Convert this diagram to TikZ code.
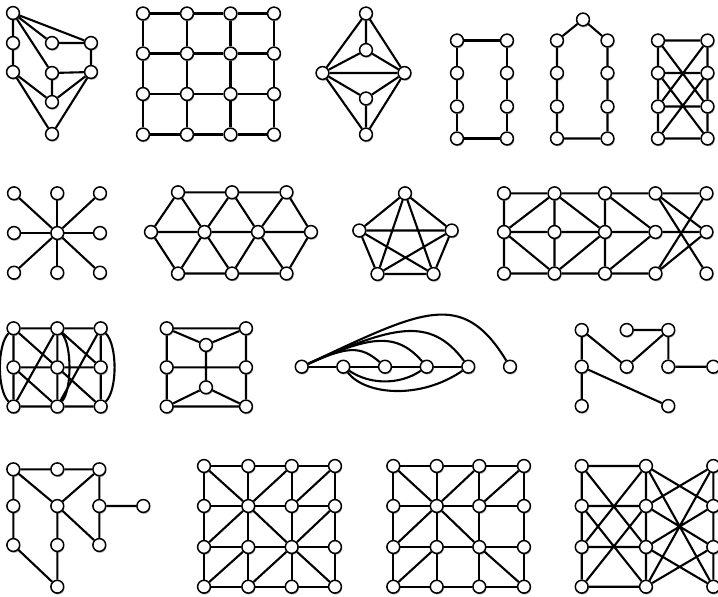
\documentclass[tikz,border=0pt]{standalone}
\usetikzlibrary{shadows,backgrounds}
\tikzset{
  v/.style={circle, draw=black, line width=1.5pt, fill=white, minimum size=12.8pt, inner sep=0pt,
    drop shadow={shadow xshift=0.7pt, shadow yshift=-1.4pt, opacity=0.35, fill=black}},
  e/.style={line width=2.1pt, draw=black},
}
\begin{document}
\begin{tikzpicture}[x=1pt,y=-1pt]
\useasboundingbox (0,0) rectangle (718,597);
% ---------- Graph 1
\node[v] (a1) at (13,13) {};
\node[v] (a2) at (13,43) {};
\node[v] (a3) at (52,43) {};
\node[v] (a4) at (91,43) {};
\node[v] (a5) at (13,72) {};
\node[v] (a6) at (52,73) {};
\node[v] (a7) at (91,72) {};
\node[v] (a8) at (52,102) {};
\node[v] (a9) at (52,134) {};
% ---------- Graph 2 grid
\foreach \i/\x in {1/143,2/187,3/230.5,4/274}
  \foreach \j/\y in {1/13.5,2/53.5,3/94,4/134.5}
    \node[v] (b\j\i) at (\x,\y) {};
% ---------- Graph 3
\node[v] (c1) at (366,13.5) {};
\node[v] (c2) at (366,50) {};
\node[v] (c3) at (322.5,73) {};
\node[v] (c4) at (404.5,73) {};
\node[v] (c5) at (366,98.5) {};
\node[v] (c6) at (366,134.5) {};
% ---------- Graphs 4, 5, 6
\foreach \j/\y in {1/40.5,2/73,3/106.5,4/138.5}{
  \node[v] (dl\j) at (457,\y) {};
  \node[v] (dr\j) at (507,\y) {};
  \node[v] (fl\j) at (557,\y) {};
  \node[v] (fr\j) at (607.5,\y) {};
  \node[v] (gl\j) at (658,\y) {};
  \node[v] (gr\j) at (707.5,\y) {};
}
\node[v] (ft) at (583,19.5) {};
% ---------- Graph 7 star
\node[v] (s0) at (57.3,233) {};
\node[v] (s1) at (14,193.3) {};
\node[v] (s2) at (57.3,193.3) {};
\node[v] (s3) at (100,193.3) {};
\node[v] (s4) at (14,233) {};
\node[v] (s5) at (100,233) {};
\node[v] (s6) at (14,272.7) {};
\node[v] (s7) at (57.3,272.7) {};
\node[v] (s8) at (100,272.7) {};
% ---------- Graph 8 triangles
\node[v] (t1) at (178,192.3) {};
\node[v] (t2) at (232,192.3) {};
\node[v] (t3) at (286.5,192.3) {};
\node[v] (m1) at (151,232) {};
\node[v] (m2) at (204.5,232) {};
\node[v] (m3) at (258,232) {};
\node[v] (m4) at (311,232) {};
\node[v] (u1) at (178,273.5) {};
\node[v] (u2) at (232,273.5) {};
\node[v] (u3) at (286.5,273.5) {};
% ---------- Graph 9 K5
\node[v] (k1) at (405,193.3) {};
\node[v] (k2) at (359.3,230.5) {};
\node[v] (k3) at (451.7,230.5) {};
\node[v] (k4) at (377.5,274) {};
\node[v] (k5) at (433.5,274) {};
% ---------- Graph 10
\foreach \c/\x in {1/504,2/554.5,3/605,4/655.5,5/706.5}{
  \node[v] (h1\c) at (\x,193.3) {};
  \node[v] (h2\c) at (\x,232) {};
  \node[v] (h3\c) at (\x,273.5) {};
}
% ---------- Graph 11
\foreach \c/\x in {1/13.5,2/57.3,3/100.7}{
  \node[v] (q1\c) at (\x,328.3) {};
  \node[v] (q2\c) at (\x,367.3) {};
  \node[v] (q3\c) at (\x,406.5) {};
}
% ---------- Graph 12
\node[v] (w1) at (166.7,328.3) {};
\node[v] (w2) at (246,328.3) {};
\node[v] (w3) at (206,345) {};
\node[v] (w4) at (166.7,367.3) {};
\node[v] (w5) at (246,367.3) {};
\node[v] (w6) at (206,387.3) {};
\node[v] (w7) at (166.7,406.5) {};
\node[v] (w8) at (246,406.5) {};
% ---------- Graph 13
\node[v] (n1) at (301.7,366.7) {};
\node[v] (n2) at (343.3,366.7) {};
\node[v] (n3) at (385,366.7) {};
\node[v] (n4) at (426.7,366.7) {};
\node[v] (n5) at (468.3,366.7) {};
\node[v] (n6) at (510,366.7) {};
% ---------- Graph 14
\node[v] (r1) at (581.7,330) {};
\node[v] (r2) at (626.7,330) {};
\node[v] (r3) at (668.3,330) {};
\node[v] (r4) at (581.7,366.7) {};
\node[v] (r5) at (626.7,366.7) {};
\node[v] (r6) at (668.3,366.7) {};
\node[v] (r7) at (713.3,366.7) {};
\node[v] (r8) at (581.7,406) {};
\node[v] (r9) at (668.3,406) {};
% ---------- Graph 15
\node[v] (xa) at (13.3,469.3) {};
\node[v] (xb) at (57.3,469.3) {};
\node[v] (xc) at (99.3,469.3) {};
\node[v] (xd) at (13.3,506) {};
\node[v] (xe) at (57.3,506) {};
\node[v] (xf) at (99.3,506) {};
\node[v] (xg) at (143.3,506) {};
\node[v] (xh) at (13.3,545) {};
\node[v] (xi) at (57.3,545) {};
\node[v] (xj) at (99.3,545) {};
\node[v] (xk) at (57.3,586.7) {};
% ---------- Graphs 16, 17, 18
\foreach \r/\y in {1/466,2/506,3/547,4/586.7}{
  \foreach \c/\x in {1/204,2/248.3,3/291.7,4/335}{
    \node[v] (p\r\c) at (\x,\y) {};
  }
  \foreach \c/\x in {1/393.3,2/436.7,3/479.3,4/524}{
    \node[v] (o\r\c) at (\x,\y) {};
  }
  \foreach \c/\x in {1/581.7,2/646,3/713.3}{
    \node[v] (z\r\c) at (\x,\y) {};
  }
}
\begin{pgfonlayer}{background}
% Graph 1
\draw[e] (a1)--(a2) (a1)--(a3) (a1)--(a4) (a1)--(a6) (a3)--(a4) (a4)--(a7)
  (a6)--(a7) (a6)--(a8) (a7)--(a8) (a7)--(a9) (a5)--(a8) (a5)--(a9) (a2)--(a5);
% Graph 2
\foreach \r in {1,...,4}{
  \draw[e] (b\r1)--(b\r2)--(b\r3)--(b\r4);
  \draw[e] (b1\r)--(b2\r)--(b3\r)--(b4\r);
}
% Graph 3
\draw[e] (c1)--(c3) (c1)--(c4) (c1)--(c2) (c2)--(c3) (c2)--(c4) (c3)--(c4)
  (c3)--(c5) (c4)--(c5) (c5)--(c6) (c3)--(c6) (c4)--(c6);
% Graph 4
\draw[e] (dl1)--(dl2)--(dl3)--(dl4)--(dr4)--(dr3)--(dr2)--(dr1)--(dl1);
% Graph 5
\draw[e] (ft)--(fl1)--(fl2)--(fl3)--(fl4)--(fr4)--(fr3)--(fr2)--(fr1)--(ft);
% Graph 6
\draw[e] (gl1)--(gl2)--(gl3)--(gl4) (gr1)--(gr2)--(gr3)--(gr4)
  (gl1)--(gr1) (gl2)--(gr2) (gl3)--(gr3) (gl4)--(gr4)
  (gl1)--(gr3) (gl3)--(gr1) (gl2)--(gr4) (gl4)--(gr2);
% Graph 7
\foreach \k in {1,...,8}{\draw[e] (s0)--(s\k);}
% Graph 8
\draw[e] (t1)--(t2)--(t3) (m1)--(m2)--(m3)--(m4) (u1)--(u2)--(u3)
  (m1)--(t1)--(m2)--(t2)--(m3)--(t3)--(m4)
  (m1)--(u1)--(m2)--(u2)--(m3)--(u3)--(m4);
% Graph 9
\draw[e] (k1)--(k2) (k1)--(k3) (k1)--(k4) (k1)--(k5) (k2)--(k3) (k2)--(k4)
  (k2)--(k5) (k3)--(k4) (k3)--(k5) (k4)--(k5);
% Graph 10
\draw[e] (h11)--(h12)--(h13)--(h14)--(h15) (h21)--(h22)--(h23)--(h24)--(h25)
  (h31)--(h32)--(h33)--(h34)
  (h11)--(h21)--(h31) (h12)--(h22)--(h32) (h13)--(h23)--(h33)
  (h21)--(h12) (h21)--(h32) (h12)--(h23) (h32)--(h23)
  (h13)--(h24) (h33)--(h24)
  (h14)--(h25) (h14)--(h35) (h34)--(h15) (h34)--(h25);
% Graph 11
\draw[e] (q11)--(q12)--(q13) (q21)--(q22)--(q23) (q31)--(q32)--(q33)
  (q11)--(q21)--(q31) (q12)--(q22)--(q32) (q13)--(q23)--(q33)
  (q11)--(q22) (q12)--(q31) (q12)--(q23) (q13)--(q32) (q21)--(q32) (q22)--(q33);
\draw[e] (q11) .. controls (-3,345) and (-3,390) .. (q31);
\draw[e] (q13) .. controls (117.5,345) and (117.5,390) .. (q33);
\draw[e] (q12) .. controls (72,345) and (72,390) .. (q32);
% Graph 12
\draw[e] (w1)--(w2) (w1)--(w3) (w2)--(w3) (w3)--(w6) (w4)--(w5)
  (w1)--(w4)--(w7) (w2)--(w5)--(w8) (w7)--(w8) (w7)--(w6) (w8)--(w6);
% Graph 13
\draw[e] (n1)--(n2)--(n3)--(n4)--(n5);
\draw[e] (n1) .. controls (346.7,346.7) and (360,345) .. (n3);
\draw[e] (n1) .. controls (366.7,337.7) and (395,330) .. (n4);
\draw[e] (n1) .. controls (391.7,326.7) and (430,315) .. (n5);
\draw[e] (n1) .. controls (421.7,310.7) and (462,288) .. (n6);
\draw[e] (n2) .. controls (370,385) and (400,385) .. (n4);
\draw[e] (n2) .. controls (365,395) and (420,400) .. (n5);
% Graph 14
\draw[e] (r1)--(r4)--(r8) (r1)--(r5)--(r3) (r2)--(r3)--(r6)--(r7) (r4)--(r9);
% Graph 15
\draw[e] (xa)--(xb)--(xc) (xa)--(xd) (xa)--(xe) (xc)--(xe) (xc)--(xf)--(xg)
  (xf)--(xj) (xe)--(xj) (xe)--(xi)--(xk) (xd)--(xh)--(xk);
% Graph 16 and 17 grids
\foreach \r in {1,...,4}{
  \draw[e] (p\r1)--(p\r2)--(p\r3)--(p\r4);
  \draw[e] (p1\r)--(p2\r)--(p3\r)--(p4\r);
  \draw[e] (o\r1)--(o\r2)--(o\r3)--(o\r4);
  \draw[e] (o1\r)--(o2\r)--(o3\r)--(o4\r);
}
\draw[e] (p11)--(p22)--(p13) (p23)--(p14) (p22)--(p31) (p22)--(p33)
  (p33)--(p24) (p32)--(p41) (p33)--(p42) (p33)--(p44);
\draw[e] (o11)--(o22)--(o13) (o23)--(o14) (o22)--(o31) (o22)--(o33)--(o44)
  (o32)--(o41);
% Graph 18
\draw[e] (z11)--(z21)--(z31)--(z41) (z12)--(z22)--(z32)--(z42)
  (z13)--(z23)--(z33)--(z43)
  (z11)--(z12) (z21)--(z22) (z31)--(z32) (z41)--(z42)
  (z11)--(z32) (z12)--(z31) (z21)--(z42) (z22)--(z41)
  (z12)--(z23) (z12)--(z43) (z22)--(z13) (z22)--(z33)
  (z32)--(z23) (z32)--(z43) (z42)--(z13) (z42)--(z33);
\end{pgfonlayer}
\end{tikzpicture}
\end{document}
